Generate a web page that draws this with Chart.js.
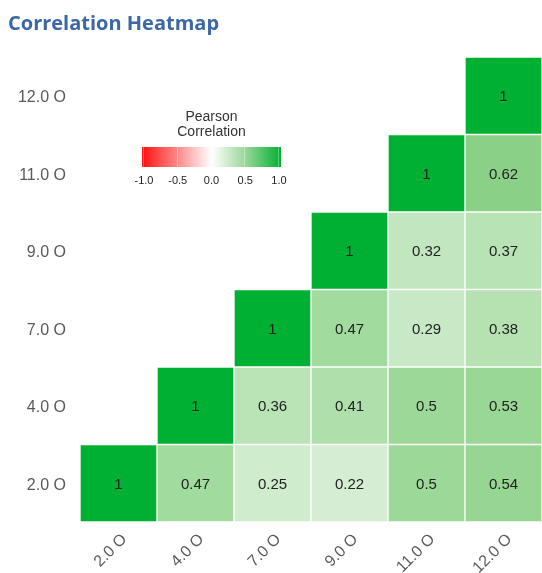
<!DOCTYPE html>
<html>
<head>
<meta charset="utf-8">
<script src="https://cdn.jsdelivr.net/npm/chart.js@4"></script>
<style>
html,body{margin:0;padding:0;background:#fff;overflow:hidden;}
#wrap{width:542px;height:573px;position:relative;}
</style>
</head>
<body>
<div id="wrap"><canvas id="c" width="542" height="573"></canvas></div>
<script>
// ---- data ----
const xLabels = ['2.0 O', '4.0 O', '7.0 O', '9.0 O', '11.0 O', '12.0 O'];
const yLabels = ['2.0 O', '4.0 O', '7.0 O', '9.0 O', '11.0 O', '12.0 O'];
const row2  = [1, 0.47, 0.25, 0.22, 0.5, 0.54];
const row4  = [null, 1, 0.36, 0.41, 0.5, 0.53];
const row7  = [null, null, 1, 0.47, 0.29, 0.38];
const row9  = [null, null, null, 1, 0.32, 0.37];
const row11 = [null, null, null, null, 1, 0.62];
const row12 = [null, null, null, null, null, 1];
const rows = [row2, row4, row7, row9, row11, row12];
const legendTicks = ['-1.0', '-0.5', '0.0', '0.5', '1.0'];

// ---- colour scale ----
const stops = [
  [0, [255,255,255]],
  [0.22, [213,238,211]],
  [0.36, [186,228,182]],
  [0.5, [156,217,152]],
  [0.62, [138,209,135]],
  [1, [0,176,51]]
];
function colorFor(v) {
  if (v == null) return 'rgba(0,0,0,0)';
  if (v <= stops[0][0]) return 'rgb(255,255,255)';
  for (let i = 1; i < stops.length; i++) {
    if (v <= stops[i][0]) {
      const [a, ca] = stops[i-1], [b, cb] = stops[i];
      const t = (v - a) / (b - a);
      const c = ca.map((x, k) => Math.round(x + (cb[k] - x) * t));
      return `rgb(${c[0]},${c[1]},${c[2]})`;
    }
  }
  return 'rgb(0,176,51)';
}

const datasets = rows.map((vals, r) => ({
  label: yLabels[r],
  data: vals.map(v => v == null ? null : [r - 0.5, r + 0.5]),
  values: vals,
  backgroundColor: vals.map(colorFor),
  borderColor: 'rgba(255,255,255,0.45)',
  borderWidth: 1,
  borderSkipped: false,
  grouped: false,
  barPercentage: 1,
  categoryPercentage: 1
}));

const cellText = {
  id: 'cellText',
  afterDatasetsDraw(chart) {
    const ctx = chart.ctx;
    ctx.save();
    ctx.font = '15px "Liberation Sans", Arial, sans-serif';
    ctx.fillStyle = '#222';
    ctx.textAlign = 'center';
    ctx.textBaseline = 'middle';
    chart.data.datasets.forEach((ds, di) => {
      const meta = chart.getDatasetMeta(di);
      meta.data.forEach((el, i) => {
        const v = ds.values[i];
        if (v == null) return;
        const yc = (el.y + el.base) / 2;
        ctx.fillText(String(v), el.x, yc + 1.5);
      });
    });
    ctx.restore();
  }
};

const colorLegend = {
  id: 'colorLegend',
  afterDraw(chart) {
    const ctx = chart.ctx;
    ctx.save();
    const x0 = 142, x1 = 281, y0 = 147, h = 20;
    ctx.fillStyle = '#333';
    ctx.font = '14px "Liberation Sans", Arial, sans-serif';
    ctx.textAlign = 'center';
    ctx.textBaseline = 'middle';
    const cx = (x0 + x1) / 2;
    ctx.fillText('Pearson', cx, 117.5);
    ctx.fillText('Correlation', cx, 132.5);
    const g = ctx.createLinearGradient(x0, 0, x1, 0);
    g.addColorStop(0, 'rgb(255,15,15)');
    g.addColorStop(0.25, 'rgb(255,135,135)');
    g.addColorStop(0.5, 'rgb(255,255,255)');
    g.addColorStop(0.75, 'rgb(150,214,150)');
    g.addColorStop(1, 'rgb(0,176,51)');
    ctx.fillStyle = g;
    ctx.fillRect(x0, y0, x1 - x0, h);
    ctx.font = '11px "Liberation Sans", Arial, sans-serif';
    ctx.fillStyle = '#222';
    legendTicks.forEach((t, i) => {
      const x = x0 + 1 + i * (x1 - x0 - 4) / (legendTicks.length - 1);
      ctx.strokeStyle = 'rgba(255,255,255,0.35)';
      ctx.lineWidth = 1;
      ctx.beginPath();
      ctx.moveTo(Math.round(x) + 0.5, y0);
      ctx.lineTo(Math.round(x) + 0.5, y0 + h);
      ctx.stroke();
      ctx.fillText(t, x + 1, 181);
    });
    ctx.restore();
  }
};

new Chart(document.getElementById('c'), {
  type: 'bar',
  data: { labels: xLabels, datasets },
  options: {
    responsive: false,
    animation: false,
    devicePixelRatio: 1,
    layout: { padding: { left: 8, right: 0, top: 0, bottom: 0 } },
    plugins: {
      legend: { display: false },
      tooltip: { enabled: false },
      title: {
        display: true,
        text: 'Correlation Heatmap',
        align: 'start',
        color: '#3b67a6',
        font: { family: '"Open Sans", sans-serif', size: 20, weight: 'bold', lineHeight: 1.2 },
        padding: { top: 12, bottom: 21 }
      }
    },
    scales: {
      x: {
        type: 'category',
        grid: { display: false, drawTicks: false },
        border: { display: false },
        ticks: {
          maxRotation: 45, minRotation: 45,
          color: '#5a5a5a',
          padding: 8,
          labelOffset: 6,
          font: { family: '"Liberation Sans", Arial, sans-serif', size: 16 }
        },
        afterFit(scale) { scale.height = 51; }
      },
      y: {
        type: 'linear',
        min: -0.5, max: 5.5,
        grid: { display: false, drawTicks: false },
        border: { display: false },
        afterBuildTicks(scale) { scale.ticks = yLabels.map((l, i) => ({ value: i })); },
        ticks: {
          color: '#5a5a5a',
          padding: 14,
          labelOffset: 2,
          font: { family: '"Liberation Sans", Arial, sans-serif', size: 16 },
          callback: (v) => yLabels[v]
        },
        afterFit(scale) { scale.width = 72; }
      }
    }
  },
  plugins: [cellText, colorLegend]
});
</script>
</body>
</html>
